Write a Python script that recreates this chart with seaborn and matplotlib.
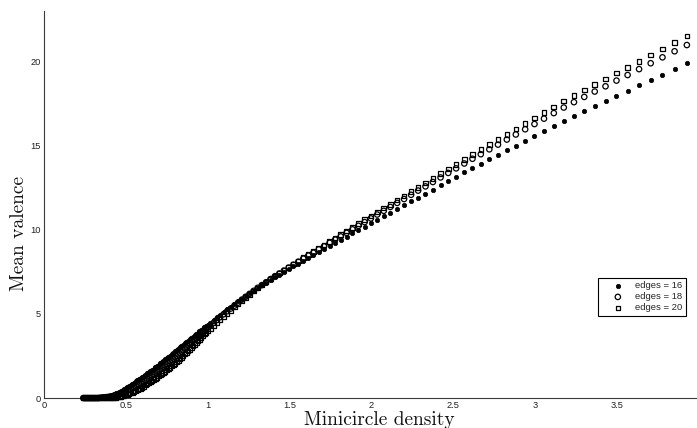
import matplotlib
matplotlib.use("Agg")
import matplotlib.pyplot as plt
import seaborn as sns
import pandas as pd

# ---- data ----
density = [
    0.24, 0.25, 0.26, 0.27, 0.28, 0.29, 0.30, 0.31, 0.32, 0.33, 0.34, 0.35, 0.36,
    0.37, 0.38, 0.39, 0.40, 0.41, 0.42, 0.43, 0.44, 0.45, 0.46, 0.47, 0.48, 0.49,
    0.50, 0.51, 0.52, 0.53, 0.54, 0.55, 0.56, 0.57, 0.58, 0.59, 0.60, 0.61, 0.62,
    0.63, 0.64, 0.65, 0.66, 0.67, 0.68, 0.69, 0.70, 0.71, 0.72, 0.73, 0.74, 0.75,
    0.76, 0.77, 0.78, 0.79, 0.80, 0.81, 0.82, 0.83, 0.84, 0.85, 0.86, 0.87, 0.88,
    0.89, 0.90, 0.91, 0.92, 0.93, 0.94, 0.95, 0.96, 0.97, 0.98, 0.99, 1.00,
    1.016, 1.036, 1.056, 1.076, 1.097, 1.119, 1.141, 1.163, 1.186, 1.209, 1.232,
    1.256, 1.281, 1.306, 1.331, 1.357, 1.384, 1.411, 1.438, 1.466, 1.495, 1.524,
    1.554, 1.584, 1.615, 1.646, 1.679, 1.711, 1.745, 1.779, 1.813, 1.849, 1.885,
    1.921, 1.959, 1.997, 2.036, 2.076, 2.116, 2.158, 2.200, 2.243, 2.286, 2.331,
    2.376, 2.423, 2.470, 2.518, 2.568, 2.618, 2.669, 2.721, 2.774, 2.828, 2.883,
    2.940, 2.997, 3.055, 3.115, 3.176, 3.238, 3.301, 3.365, 3.431, 3.498, 3.566,
    3.636, 3.707, 3.779, 3.853, 3.928,
]

valence_16 = [
    0.00, 0.00, 0.00, 0.00, 0.00, 0.00, 0.00, 0.00, 0.01, 0.01, 0.02, 0.03, 0.04,
    0.06, 0.08, 0.10, 0.13, 0.16, 0.20, 0.24, 0.28, 0.32, 0.37, 0.42, 0.48, 0.54,
    0.60, 0.66, 0.72, 0.78, 0.85, 0.91, 0.98, 1.04, 1.11, 1.18, 1.25, 1.32, 1.39,
    1.46, 1.53, 1.60, 1.68, 1.75, 1.83, 1.90, 1.98, 2.05, 2.13, 2.21, 2.29, 2.36,
    2.44, 2.52, 2.60, 2.68, 2.76, 2.84, 2.92, 3.00, 3.08, 3.16, 3.24, 3.32, 3.40,
    3.48, 3.56, 3.64, 3.72, 3.80, 3.88, 3.96, 4.04, 4.12, 4.20, 4.28, 4.36,
    4.48, 4.63, 4.78, 4.94, 5.10, 5.26, 5.41, 5.57, 5.73, 5.90, 6.05,
    6.21, 6.37, 6.54, 6.69, 6.85, 7.02, 7.18, 7.33, 7.49, 7.66, 7.82,
    7.98, 8.15, 8.32, 8.48, 8.66, 8.83, 9.02, 9.20, 9.38, 9.57, 9.77,
    9.96, 10.17, 10.37, 10.58, 10.79, 11.00, 11.22, 11.44, 11.67, 11.90, 12.13,
    12.37, 12.62, 12.87, 13.12, 13.39, 13.65, 13.90, 14.17, 14.43, 14.71, 14.98,
    15.27, 15.56, 15.85, 16.16, 16.46, 16.76, 17.04, 17.33, 17.62, 17.93, 18.23,
    18.55, 18.87, 19.19, 19.52, 19.86,
]

valence_18 = [
    0.00, 0.00, 0.00, 0.00, 0.00, 0.00, 0.00, 0.00, 0.00, 0.00, 0.01, 0.02, 0.03,
    0.04, 0.05, 0.06, 0.07, 0.09, 0.11, 0.13, 0.16, 0.19, 0.22, 0.26, 0.30, 0.34,
    0.39, 0.44, 0.49, 0.54, 0.60, 0.65, 0.71, 0.76, 0.82, 0.88, 0.95, 1.01, 1.08,
    1.14, 1.21, 1.28, 1.35, 1.42, 1.50, 1.57, 1.64, 1.71, 1.79, 1.86, 1.94, 2.01,
    2.09, 2.17, 2.25, 2.33, 2.41, 2.49, 2.58, 2.66, 2.75, 2.83, 2.92, 3.01, 3.10,
    3.19, 3.28, 3.37, 3.46, 3.55, 3.64, 3.73, 3.82, 3.91, 4.00, 4.09, 4.17,
    4.30, 4.46, 4.63, 4.80, 4.97, 5.15, 5.31, 5.48, 5.66, 5.84, 6.01,
    6.18, 6.36, 6.54, 6.70, 6.87, 7.06, 7.23, 7.39, 7.56, 7.74, 7.91,
    8.09, 8.27, 8.45, 8.62, 8.82, 9.00, 9.21, 9.40, 9.59, 9.80, 10.01,
    10.22, 10.44, 10.66, 10.89, 11.11, 11.34, 11.58, 11.81, 12.06, 12.31, 12.56,
    12.82, 13.09, 13.36, 13.63, 13.92, 14.20, 14.47, 14.76, 15.04, 15.34, 15.64,
    15.95, 16.26, 16.58, 16.91, 17.24, 17.56, 17.87, 18.19, 18.50, 18.84, 19.17,
    19.52, 19.87, 20.22, 20.58, 20.95,
]

valence_20 = [
    0.00, 0.00, 0.00, 0.00, 0.00, 0.00, 0.00, 0.00, 0.00, 0.00, 0.00, 0.00, 0.01,
    0.01, 0.01, 0.01, 0.01, 0.01, 0.02, 0.03, 0.04, 0.05, 0.07, 0.09, 0.12, 0.15,
    0.18, 0.21, 0.25, 0.29, 0.34, 0.38, 0.43, 0.48, 0.53, 0.58, 0.64, 0.70, 0.76,
    0.82, 0.88, 0.95, 1.02, 1.09, 1.16, 1.23, 1.30, 1.37, 1.44, 1.51, 1.59, 1.66,
    1.74, 1.82, 1.90, 1.98, 2.06, 2.14, 2.23, 2.32, 2.41, 2.50, 2.60, 2.69, 2.79,
    2.89, 2.99, 3.09, 3.19, 3.29, 3.39, 3.49, 3.59, 3.69, 3.79, 3.88, 3.97,
    4.12, 4.30, 4.47, 4.66, 4.84, 5.03, 5.21, 5.40, 5.59, 5.79, 5.96,
    6.15, 6.35, 6.54, 6.71, 6.89, 7.07, 7.25, 7.42, 7.59, 7.78, 7.96,
    8.14, 8.33, 8.51, 8.69, 8.89, 9.08, 9.29, 9.50, 9.70, 9.91, 10.13,
    10.34, 10.58, 10.80, 11.03, 11.27, 11.50, 11.75, 11.99, 12.25, 12.51, 12.77,
    13.03, 13.31, 13.59, 13.87, 14.17, 14.46, 14.74, 15.05, 15.34, 15.65, 15.96,
    16.28, 16.61, 16.93, 17.28, 17.62, 17.95, 18.27, 18.60, 18.93, 19.28, 19.63,
    19.99, 20.35, 20.72, 21.09, 21.48,
]

series_labels = ["edges = 16", "edges = 18", "edges = 20"]
x_ticks = [0, 0.5, 1, 1.5, 2, 2.5, 3, 3.5]
x_tick_labels = ["0", "0.5", "1", "1.5", "2", "2.5", "3", "3.5"]
y_ticks = [0, 5, 10, 15, 20]
y_tick_labels = ["0", "5", "10", "15", "20"]
x_label = "Minicircle density"
y_label = "Mean valence"

df = pd.DataFrame({
    "density": density,
    "v16": valence_16,
    "v18": valence_18,
    "v20": valence_20,
})

sns.set_style("white")
plt.rcParams["font.family"] = ["Liberation Sans", "DejaVu Sans"]

W, H = 697, 428
fig = plt.figure(figsize=(W / 100, H / 100), dpi=100)
ax_left, ax_bottom_px, ax_top_px, ax_right = 44, 398, 11, 697
ax = fig.add_axes([ax_left / W, 1 - ax_bottom_px / H,
                   (ax_right - ax_left) / W, (ax_bottom_px - ax_top_px) / H])

# squares (edges = 20)
sns.scatterplot(data=df, x="density", y="v20", ax=ax, marker="s", s=11,
                facecolor="none", edgecolor="black", linewidth=0.9,
                clip_on=False, zorder=3, label=series_labels[2])
# open circles (edges = 18)
sns.scatterplot(data=df, x="density", y="v18", ax=ax, marker="o", s=15,
                facecolor="none", edgecolor="black", linewidth=0.9,
                clip_on=False, zorder=4, label=series_labels[1])
# filled dots (edges = 16)
sns.scatterplot(data=df, x="density", y="v16", ax=ax, marker="o", s=10,
                facecolor="black", edgecolor="black", linewidth=0.5,
                clip_on=False, zorder=5, label=series_labels[0])

ax.set_xlim(0, 3.99)
ax.set_ylim(0, 22.97)
ax.set_xticks(x_ticks)
ax.set_xticklabels(x_tick_labels)
ax.set_yticks(y_ticks)
ax.set_yticklabels(y_tick_labels)

for side in ("top", "right"):
    ax.spines[side].set_visible(False)
for side in ("left", "bottom"):
    ax.spines[side].set_color("#3a3a3a")
    ax.spines[side].set_linewidth(0.8)

ax.tick_params(axis="both", direction="in", length=4.3, width=0.8,
               color="#3a3a3a", labelsize=6.7, labelcolor="#222222", pad=2.5)

ax.set_xlabel(x_label, fontfamily="cmr10", fontsize=14, color="#111111")
ax.set_ylabel(y_label, fontfamily="cmr10", fontsize=14, color="#111111")
ax.xaxis.label.set_va("baseline")
ax.xaxis.set_label_coords((379 - ax_left) / (ax_right - ax_left),
                          (ax_bottom_px - 425) / (ax_bottom_px - ax_top_px))
ax.yaxis.label.set_va("center")
ax.yaxis.set_label_coords((19 - ax_left) / (ax_right - ax_left),
                          (ax_bottom_px - 233) / (ax_bottom_px - ax_top_px))

# legend in the order 16, 18, 20
handles, labels = ax.get_legend_handles_labels()
order = [labels.index(l) for l in series_labels]
leg = ax.legend([handles[i] for i in order], [labels[i] for i in order],
                loc="upper left", bbox_to_anchor=(598 / W, 1 - 278 / H),
                bbox_transform=fig.transFigure, borderaxespad=0,
                fontsize=6.8, frameon=True, fancybox=False, framealpha=1,
                edgecolor="black", borderpad=0.35, handletextpad=0.1,
                handlelength=3.5, labelspacing=0.22)
leg.get_frame().set_linewidth(0.8)

fig.savefig("out.png", dpi=100)
